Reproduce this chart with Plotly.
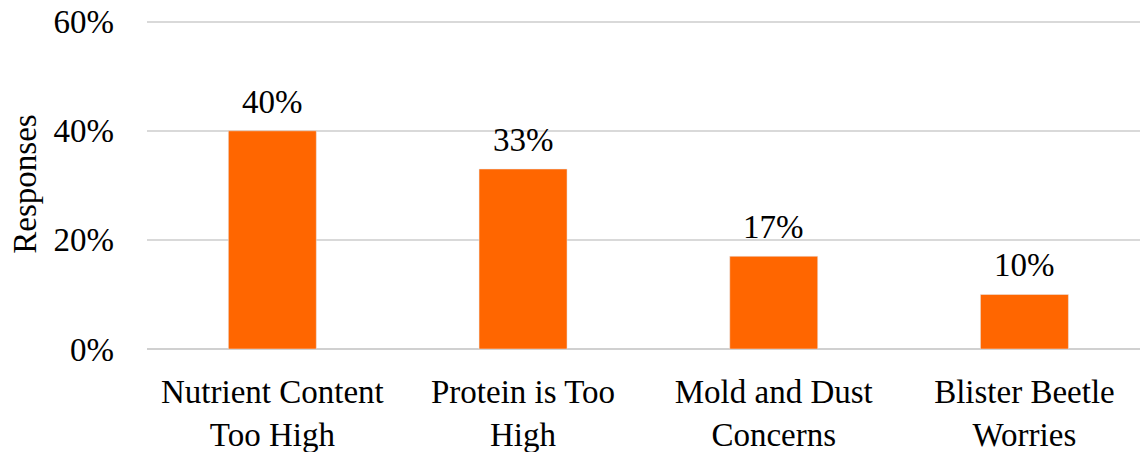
import plotly.graph_objects as go

categories = ["Nutrient Content<br>Too High", "Protein is Too<br>High", "Mold and Dust<br>Concerns", "Blister Beetle<br>Worries"]
values = [0.40, 0.33, 0.17, 0.10]
labels = ["40%", "33%", "17%", "10%"]
y_ticks = [0, 0.2, 0.4, 0.6]
y_tick_labels = ["0%", "20%", "40%", "60%"]

FONT = "Liberation Serif, Times New Roman, serif"

x_pos = list(range(len(categories)))

fig = go.Figure(go.Bar(
    x=x_pos,
    y=values,
    marker=dict(color="#FF6600"),
    width=0.351,
    hoverinfo="skip",
))

for xi, v, lab in zip(x_pos, values, labels):
    fig.add_annotation(
        x=xi, y=v, text=lab, showarrow=False,
        yanchor="bottom", yshift=9,
        font=dict(family=FONT, size=33, color="#000000"),
    )

fig.update_layout(
    width=1140, height=452,
    margin=dict(l=147, r=0, t=19, b=103),
    paper_bgcolor="white", plot_bgcolor="white",
    showlegend=False,
    font=dict(family=FONT, size=33, color="#000000"),
    xaxis=dict(
        tickmode="array",
        tickvals=x_pos,
        ticktext=categories,
        range=[-0.5, 3.461],
        showgrid=False,
        showline=False,
        zeroline=False,
        ticks="",
        automargin=False,
        ticklabelstandoff=20,
        ticklabeloverflow="allow",
        tickfont=dict(family=FONT, size=33, color="#000000"),
    ),
    yaxis=dict(
        range=[0, 0.605],
        tickmode="array",
        tickvals=y_ticks,
        ticktext=y_tick_labels,
        showgrid=True,
        gridcolor="#D9D9D9",
        gridwidth=1.5,
        zeroline=True,
        zerolinecolor="#D0D0D0",
        zerolinewidth=2,
        showline=False,
        ticks="",
        automargin=False,
        ticklabelstandoff=32,
        ticklabeloverflow="allow",
        tickfont=dict(family=FONT, size=33, color="#000000"),
        title=dict(text="Responses", font=dict(family=FONT, size=33, color="#000000"), standoff=6),
    ),
)

fig.write_html(
    "out.html",
    config={"displayModeBar": False},
    post_script="document.body.style.margin='0';document.body.style.overflow='hidden';",
)
